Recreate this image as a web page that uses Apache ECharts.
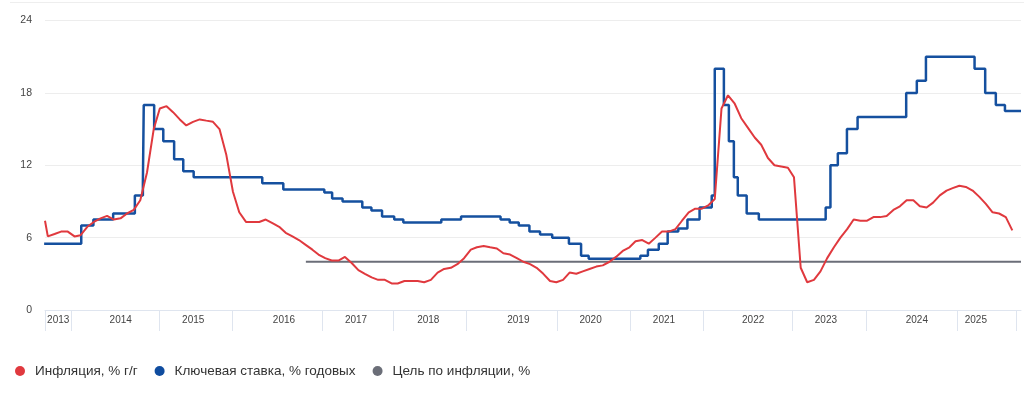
<!DOCTYPE html>
<html>
<head>
<meta charset="utf-8">
<script src="https://cdn.jsdelivr.net/npm/echarts@6/dist/echarts.min.js"></script>
<style>
html, body { margin: 0; padding: 0; background: #fff; }
#chart { width: 1024px; height: 399px; }
</style>
</head>
<body>
<div id="chart"></div>
<script>
// границы оси X
var xMin = '2013-09-17';
var xMax = '2026-01-09';

// засечки-разделители годов и места подписей
var yearTicks = ['2013-09-17', '2014-01-15', '2015-02-26', '2016-01-28', '2017-03-18', '2018-02-08',
    '2019-01-09', '2020-03-06', '2021-02-04', '2022-01-08', '2023-02-22', '2024-01-26', '2025-03-21', '2025-12-16'];
var yearLabelAt = ['2013-11-17', '2014-09-01', '2015-08-01', '2016-09-22', '2017-08-20', '2018-07-19',
    '2019-09-07', '2020-08-05', '2021-07-09', '2022-08-24', '2023-07-25', '2024-09-16', '2025-06-15'];

// инфляция, % г/г — на конец месяца, с сентября 2013 по ноябрь 2025
var inflationAtStart = 7.4;
var inflation = [
    6.1, 6.3, 6.5, 6.5,                                              // 2013
    6.1, 6.2, 6.9, 7.3, 7.6, 7.8, 7.5, 7.6, 8.0, 8.3, 9.1, 11.4,     // 2014
    15.0, 16.7, 16.9, 16.4, 15.8, 15.3, 15.6, 15.8, 15.7, 15.6, 15.0, 12.9, // 2015
    9.8, 8.1, 7.3, 7.3, 7.3, 7.5, 7.2, 6.9, 6.4, 6.1, 5.8, 5.4,      // 2016
    5.0, 4.6, 4.3, 4.1, 4.1, 4.4, 3.9, 3.3, 3.0, 2.7, 2.5, 2.5,      // 2017
    2.2, 2.2, 2.4, 2.4, 2.4, 2.3, 2.5, 3.1, 3.4, 3.5, 3.8, 4.3,      // 2018
    5.0, 5.2, 5.3, 5.2, 5.1, 4.7, 4.6, 4.3, 4.0, 3.8, 3.5, 3.0,      // 2019
    2.4, 2.3, 2.5, 3.1, 3.0, 3.2, 3.4, 3.6, 3.7, 4.0, 4.4, 4.9,      // 2020
    5.2, 5.7, 5.8, 5.5, 6.0, 6.5, 6.5, 6.7, 7.4, 8.1, 8.4, 8.4,      // 2021
    8.7, 9.2, 16.7, 17.8, 17.1, 15.9, 15.1, 14.3, 13.7, 12.6, 12.0, 11.9, // 2022
    11.8, 11.0, 3.5, 2.3, 2.5, 3.2, 4.3, 5.2, 6.0, 6.7, 7.5, 7.4,    // 2023
    7.4, 7.7, 7.7, 7.8, 8.3, 8.6, 9.1, 9.1, 8.6, 8.5, 8.9, 9.5,      // 2024
    9.9, 10.1, 10.3, 10.2, 9.9, 9.4, 8.8, 8.1, 8.0, 7.7, 6.6         // 2025
];

// ключевая ставка, % годовых — дата решения и новое значение
var rateDates = ['2013-09-13', '2014-03-03', '2014-04-28', '2014-07-28', '2014-11-05', '2014-12-12',
    '2014-12-16', '2015-02-02', '2015-03-16', '2015-05-05', '2015-06-16', '2015-08-03', '2016-06-14',
    '2016-09-19', '2017-03-27', '2017-05-02', '2017-06-19', '2017-09-18', '2017-10-30', '2017-12-18',
    '2018-02-12', '2018-03-26', '2018-09-17', '2018-12-17', '2019-06-17', '2019-07-29', '2019-09-09',
    '2019-10-28', '2019-12-16', '2020-02-10', '2020-04-27', '2020-06-22', '2020-07-27', '2021-03-22',
    '2021-04-26', '2021-06-15', '2021-07-26', '2021-09-13', '2021-10-25', '2021-12-20', '2022-02-14',
    '2022-02-28', '2022-04-11', '2022-05-04', '2022-05-27', '2022-06-14', '2022-07-25', '2022-09-19',
    '2023-07-24', '2023-08-15', '2023-09-18', '2023-10-30', '2023-12-18', '2024-07-29', '2024-09-16',
    '2024-10-28', '2025-06-09', '2025-07-28', '2025-09-15', '2025-10-27'];
var rateValues = [5.5, 7.0, 7.5, 8.0, 9.5, 10.5,
    17.0, 15.0, 14.0, 12.5, 11.5, 11.0, 10.5,
    10.0, 9.75, 9.25, 9.0, 8.5, 8.25, 7.75,
    7.5, 7.25, 7.5, 7.75, 7.5, 7.25, 7.0,
    6.5, 6.25, 6.0, 5.5, 4.5, 4.25, 4.5,
    5.0, 5.5, 6.5, 6.75, 7.5, 8.5, 9.5,
    20.0, 17.0, 14.0, 11.0, 9.5, 8.0, 7.5,
    8.5, 12.0, 13.0, 15.0, 16.0, 18.0, 19.0,
    21.0, 20.0, 18.0, 17.0, 16.5];

// цель по инфляции
var targetFrom = '2017-01-01';
var targetValue = 4;

var names = ['Инфляция, % г/г', 'Ключевая ставка, % годовых', 'Цель по инфляции, %'];

function toTime(s) {
    var p = s.split('-');
    return new Date(+p[0], +p[1] - 1, +p[2]).getTime();
}

var inflationData = [[toTime(xMin), inflationAtStart]];
for (var i = 0; i < inflation.length; i++) {
    // последний день месяца
    inflationData.push([new Date(2013, 9 + i, 0).getTime(), inflation[i]]);
}

var rateData = [];
for (var j = 0; j < rateDates.length; j++) {
    rateData.push([toTime(rateDates[j]), rateValues[j]]);
}
rateData.push([toTime(xMax), rateValues[rateValues.length - 1]]);

var targetData = [[toTime(targetFrom), targetValue], [toTime(xMax), targetValue]];

var myChart = echarts.init(document.getElementById('chart'));

var option = {
    animation: false,
    textStyle: {
        fontFamily: '"Liberation Sans", Arial, sans-serif'
    },
    graphic: [{
        type: 'line',
        shape: { x1: 10, y1: 2.5, x2: 1024, y2: 2.5 },
        style: { stroke: '#eeeeee', lineWidth: 1 }
    }],
    grid: {
        left: 45,
        right: 3,
        top: 20.5,
        bottom: 89
    },
    legend: {
        left: 10,
        top: 359,
        icon: 'circle',
        itemWidth: 20,
        itemHeight: 10,
        itemGap: 17,
        textStyle: {
            fontSize: 13.5,
            color: '#333'
        },
        data: names
    },
    xAxis: {
        // ось времени в миллисекундах
        type: 'value',
        min: toTime(xMin),
        max: toTime(xMax),
        axisLine: {
            lineStyle: { color: '#dfe5ef', width: 1 }
        },
        axisTick: {
            show: true,
            customValues: yearTicks.map(toTime),
            length: 21,
            lineStyle: { color: '#dfe5ef', width: 1 }
        },
        axisLabel: {
            customValues: yearLabelAt.map(toTime),
            formatter: function (v) {
                return String(new Date(v).getFullYear());
            },
            color: '#444',
            fontSize: 10,
            margin: 5
        },
        splitLine: { show: false }
    },
    yAxis: {
        type: 'value',
        min: 0,
        max: 24,
        interval: 6,
        axisLine: { show: false },
        axisTick: { show: false },
        axisLabel: {
            color: '#444',
            fontSize: 10.5,
            margin: 13
        },
        splitLine: {
            lineStyle: { color: '#ededed', width: 1 }
        }
    },
    series: [
        {
            name: names[2],
            type: 'line',
            data: targetData,
            symbol: 'none',
            itemStyle: { color: '#6b6e78' },
            lineStyle: { color: '#6b6e78', width: 2 }
        },
        {
            name: names[1],
            type: 'line',
            step: 'end',
            data: rateData,
            symbol: 'none',
            itemStyle: { color: '#0f4c9f' },
            lineStyle: { color: '#15509f', width: 2.5 }
        },
        {
            name: names[0],
            type: 'line',
            data: inflationData,
            symbol: 'none',
            itemStyle: { color: '#e0393e' },
            lineStyle: { color: '#e0393e', width: 2 }
        }
    ]
};

myChart.setOption(option);
</script>
</body>
</html>
